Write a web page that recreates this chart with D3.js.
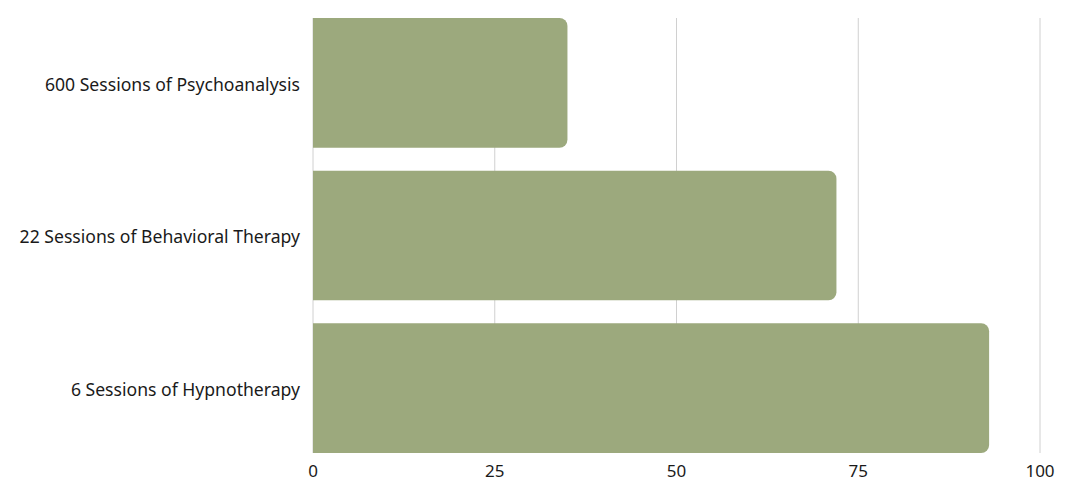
<!DOCTYPE html>
<html><head><meta charset="utf-8">
<script src="https://cdn.jsdelivr.net/npm/d3@7"></script>
<style>body{margin:0;background:#fff}</style>
</head><body>
<svg id="c" width="1080" height="500"></svg>
<script>
const categories = ["600 Sessions of Psychoanalysis","22 Sessions of Behavioral Therapy","6 Sessions of Hypnotherapy"];
const values = [35, 72, 93];
const tickValues = [0, 25, 50, 75, 100];

const svg = d3.select("#c");
const m = {left: 313, right: 40, top: 18, bottom: 47};
const W = 1080, H = 500;
const x = d3.scaleLinear().domain([0,100]).range([m.left, W - m.right]);
const y = d3.scaleBand().domain(categories).range([m.top, H - m.bottom]).paddingInner(0.15).paddingOuter(0);

const font = "'Noto Sans', sans-serif";
// grid
svg.append("g").selectAll("line").data(tickValues).join("line")
  .attr("x1", d => x(d)).attr("x2", d => x(d))
  .attr("y1", m.top).attr("y2", H - m.bottom)
  .attr("stroke", "#d0d0d0").attr("stroke-width", 1);

const r = 8;
svg.append("g").selectAll("path").data(values).join("path")
  .attr("fill", "#9ca97d")
  .attr("d", (d, i) => {
    const x0 = x(0), x1 = x(d), y0 = y(categories[i]), h = y.bandwidth();
    return `M${x0},${y0}H${x1 - r}A${r},${r} 0 0 1 ${x1},${y0 + r}V${y0 + h - r}A${r},${r} 0 0 1 ${x1 - r},${y0 + h}H${x0}Z`;
  });

// y labels
svg.append("g").selectAll("text").data(categories).join("text")
  .attr("x", 300).attr("y", d => y(d) + y.bandwidth()/2 + 1.5)
  .attr("dy", "0.35em").attr("text-anchor", "end")
  .attr("font-family", font).attr("font-size", 17.6).attr("fill", "#1a1a1a")
  .text(d => d);

// x ticks
svg.append("g").selectAll("text").data(tickValues).join("text")
  .attr("x", d => x(d)).attr("y", 477)
  .attr("text-anchor", "middle")
  .attr("font-family", font).attr("font-size", 17).attr("fill", "#1a1a1a")
  .text(d => d);
</script>
</body></html>
